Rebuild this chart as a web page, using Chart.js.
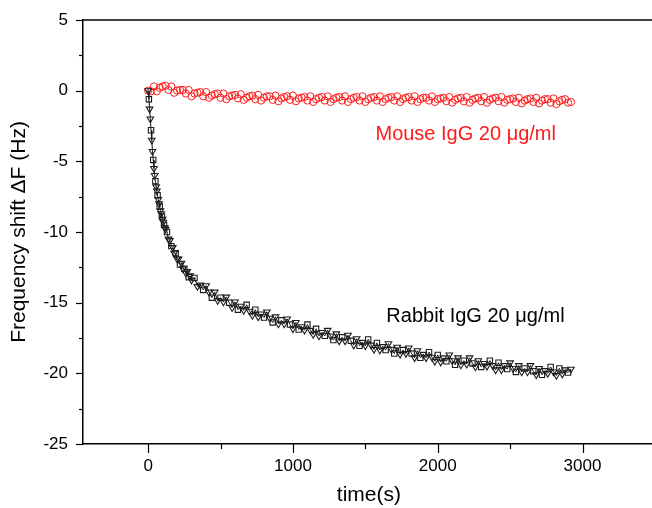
<!DOCTYPE html>
<html>
<head>
<meta charset="utf-8">
<script src="https://cdn.jsdelivr.net/npm/chart.js@4/dist/chart.umd.min.js"></script>
<style>
  html, body { margin: 0; padding: 0; background: #fff; overflow: hidden; }
  #wrap { width: 660px; height: 508px; }
</style>
</head>
<body>
<div id="wrap"><canvas id="qcmChart" width="660" height="508"></canvas></div>
<script>
// Rabbit IgG 20 µg/ml (đường giảm mạnh)
const rabbitTime = [
  0, 5, 10, 15, 20, 25, 30, 35, 40, 45, 50, 55, 60, 65, 70, 75, 80, 85, 90, 95, 100, 105, 110, 115, 120,
  130, 140, 150, 160, 170, 180, 190, 200, 210, 220, 230, 240, 250, 260, 270, 280, 290, 300,
  320, 340, 360, 380, 400, 420, 440, 460, 480, 500, 520, 540, 560, 580, 600, 620, 640, 660, 680, 700,
  720, 740, 760, 780, 800, 820, 840, 860, 880, 900, 920, 940, 960, 980, 1000, 1020, 1040, 1060, 1080, 1100,
  1120, 1140, 1160, 1180, 1200, 1220, 1240, 1260, 1280, 1300, 1320, 1340, 1360, 1380, 1400, 1420, 1440, 1460, 1480, 1500,
  1520, 1540, 1560, 1580, 1600, 1620, 1640, 1660, 1680, 1700, 1720, 1740, 1760, 1780, 1800, 1820, 1840, 1860, 1880, 1900,
  1920, 1940, 1960, 1980, 2000, 2020, 2040, 2060, 2080, 2100, 2120, 2140, 2160, 2180, 2200, 2220, 2240, 2260, 2280, 2300,
  2320, 2340, 2360, 2380, 2400, 2420, 2440, 2460, 2480, 2500, 2520, 2540, 2560, 2580, 2600, 2620, 2640, 2660, 2680, 2700,
  2720, 2740, 2760, 2780, 2800, 2820, 2840, 2860, 2880, 2900, 2920
];
const rabbitShift = [
  0, -0.6, -1.3, -2.0, -2.8, -3.5, -4.3, -4.9, -5.5, -6.0, -6.4, -6.8, -7.1, -7.4, -7.7, -8.0, -8.2, -8.5, -8.7, -8.9, -9.1, -9.3, -9.5, -9.7, -9.8,
  -10.0, -10.5, -10.6, -11.0, -11.1, -11.5, -11.5, -11.9, -11.9, -12.3, -12.2, -12.6, -12.6, -12.9, -12.8, -13.2, -13.1, -13.4,
  -13.25, -13.85, -13.75, -14.1, -13.8, -14.25, -14.65, -14.25, -14.85, -14.65, -14.95, -14.6, -15.0, -15.35, -14.95, -15.5, -15.25, -15.55, -15.15, -15.6,
  -15.9, -15.5, -16.0, -15.8, -16.05, -15.65, -16.1, -16.4, -16.0, -16.5, -16.25, -16.5, -16.15, -16.55, -16.85, -16.4, -16.9, -16.7, -16.95, -16.55,
  -16.95, -17.25, -16.85, -17.35, -17.1, -17.35, -16.95, -17.35, -17.65, -17.2, -17.7, -17.45, -17.7, -17.3, -17.7, -18.0, -17.55, -18.05, -17.8, -18.05,
  -17.6, -18.0, -18.3, -17.85, -18.35, -18.1, -18.35, -17.9, -18.3, -18.6, -18.15, -18.65, -18.35, -18.6, -18.2, -18.6, -18.9, -18.4, -18.9, -18.65,
  -18.9, -18.5, -18.85, -19.15, -18.7, -19.2, -18.9, -19.15, -18.7, -19.1, -19.4, -18.9, -19.4, -19.1, -19.35, -18.9, -19.3, -19.55, -19.1, -19.55,
  -19.3, -19.5, -19.1, -19.45, -19.75, -19.25, -19.75, -19.45, -19.7, -19.25, -19.65, -19.9, -19.45, -19.9, -19.65, -19.9, -19.45, -19.85, -20.1, -19.65,
  -20.1, -19.8, -20.0, -19.55, -19.9, -20.15, -19.65, -20.05, -19.75, -19.95, -19.7
];

// Mouse IgG 20 µg/ml (gần như không đổi)
const mouseTime = [
  0, 20, 40, 60, 80, 100, 120, 140, 160, 180, 200, 220, 240, 260, 280, 300, 320, 340, 360, 380, 400,
  420, 440, 460, 480, 500, 520, 540, 560, 580, 600, 620, 640, 660, 680, 700, 720, 740, 760, 780, 800,
  820, 840, 860, 880, 900, 920, 940, 960, 980, 1000, 1020, 1040, 1060, 1080, 1100, 1120, 1140, 1160, 1180, 1200,
  1220, 1240, 1260, 1280, 1300, 1320, 1340, 1360, 1380, 1400, 1420, 1440, 1460, 1480, 1500, 1520, 1540, 1560, 1580, 1600,
  1620, 1640, 1660, 1680, 1700, 1720, 1740, 1760, 1780, 1800, 1820, 1840, 1860, 1880, 1900, 1920, 1940, 1960, 1980, 2000,
  2020, 2040, 2060, 2080, 2100, 2120, 2140, 2160, 2180, 2200, 2220, 2240, 2260, 2280, 2300, 2320, 2340, 2360, 2380, 2400,
  2420, 2440, 2460, 2480, 2500, 2520, 2540, 2560, 2580, 2600, 2620, 2640, 2660, 2680, 2700, 2720, 2740, 2760, 2780, 2800,
  2820, 2840, 2860, 2880, 2900, 2920
];
const mouseShift = [
  0.0, -0.05, 0.3, -0.05, 0.2, 0.3, 0.35, 0.05, 0.3, -0.15, 0.0, 0.05, 0.05, -0.2, 0.05, -0.4, -0.2, -0.15, -0.1, -0.4, -0.1,
  -0.5, -0.35, -0.25, -0.2, -0.5, -0.2, -0.6, -0.4, -0.35, -0.3, -0.55, -0.25, -0.65, -0.5, -0.4, -0.35, -0.6, -0.3, -0.7, -0.5,
  -0.4, -0.4, -0.65, -0.35, -0.75, -0.55, -0.45, -0.4, -0.65, -0.35, -0.75, -0.55, -0.5, -0.45, -0.7, -0.4, -0.8, -0.6, -0.5, -0.45,
  -0.7, -0.4, -0.8, -0.6, -0.5, -0.45, -0.7, -0.4, -0.8, -0.6, -0.5, -0.45, -0.7, -0.4, -0.8, -0.6, -0.5, -0.45, -0.7, -0.4,
  -0.8, -0.6, -0.5, -0.45, -0.7, -0.4, -0.8, -0.6, -0.5, -0.45, -0.7, -0.4, -0.8, -0.6, -0.5, -0.5, -0.7, -0.4, -0.8, -0.6,
  -0.55, -0.5, -0.75, -0.45, -0.85, -0.65, -0.55, -0.5, -0.75, -0.45, -0.85, -0.65, -0.55, -0.5, -0.75, -0.45, -0.85, -0.65, -0.55, -0.5,
  -0.75, -0.45, -0.85, -0.65, -0.6, -0.55, -0.8, -0.5, -0.9, -0.7, -0.6, -0.55, -0.8, -0.5, -0.9, -0.7, -0.6, -0.6, -0.85, -0.55,
  -0.95, -0.75, -0.65, -0.6, -0.85, -0.8
];

// Vạch chia trục (chính có nhãn, phụ không nhãn)
const xTicks = [0, 500, 1000, 1500, 2000, 2500, 3000, 3500];
const xTickLabels = [0, 1000, 2000, 3000];
const yTicks = [5, 2.5, 0, -2.5, -5, -7.5, -10, -12.5, -15, -17.5, -20, -22.5, -25];
const yTickLabels = [5, 0, -5, -10, -15, -20, -25];

// Chú thích trong vùng vẽ
const notes = [
  { text: "Mouse IgG 20 \u03bcg/ml", x: 1570, y: -3.1, color: "#ff1a1a" },
  { text: "Rabbit IgG 20 \u03bcg/ml", x: 1645, y: -16.0, color: "#000000" }
];

const FONT = "'Liberation Sans', Arial, sans-serif";

// Plugin vẽ vạch chia (chính/phụ), viền trên và chú thích
const framePlugin = {
  id: "frame",
  afterDraw(chart) {
    const { ctx, chartArea, scales } = chart;
    const xs = scales.x, ys = scales.y;
    ctx.save();
    ctx.strokeStyle = "#000";
    ctx.lineWidth = 1.5;
    // viền trên
    ctx.beginPath();
    ctx.moveTo(chartArea.left, chartArea.top);
    ctx.lineTo(chartArea.right + 2, chartArea.top);
    ctx.stroke();

    ctx.lineWidth = 1.2;
    xs.ticks.forEach(t => {
      const px = Math.round(xs.getPixelForValue(t.value)) + 0.5;
      const len = xTickLabels.includes(t.value) ? 9 : 5;
      ctx.beginPath();
      ctx.moveTo(px, chartArea.bottom);
      ctx.lineTo(px, chartArea.bottom + len);
      ctx.stroke();
    });
    ys.ticks.forEach(t => {
      const py = Math.round(ys.getPixelForValue(t.value)) + 0.5;
      const len = yTickLabels.includes(t.value) ? 7 : 4;
      ctx.beginPath();
      ctx.moveTo(chartArea.left, py);
      ctx.lineTo(chartArea.left - len, py);
      ctx.stroke();
    });

    ctx.font = "20px " + FONT;
    ctx.textAlign = "left";
    ctx.textBaseline = "middle";
    notes.forEach(n => {
      ctx.fillStyle = n.color;
      ctx.fillText(n.text, xs.getPixelForValue(n.x), ys.getPixelForValue(n.y));
    });
    ctx.restore();
  }
};

const rabbitPoints = rabbitTime.map((t, i) => ({ x: t, y: rabbitShift[i] }));
const mousePoints = mouseTime.map((t, i) => ({ x: t, y: mouseShift[i] }));

new Chart(document.getElementById("qcmChart"), {
  type: "scatter",
  data: {
    datasets: [
      {
        label: "Rabbit IgG",
        data: rabbitPoints,
        showLine: true,
        borderColor: "#111",
        borderWidth: 1,
        pointBorderColor: "#1c1c1c",
        pointBackgroundColor: "rgba(255,255,255,0)",
        pointBorderWidth: 1.1,
        pointRadius: 3.8,
        pointStyle: ctx => (ctx.dataIndex % 3 === 1 ? "rect" : "triangle"),
        pointRotation: ctx => (ctx.dataIndex % 3 === 1 ? 0 : 180)
      },
      {
        label: "Mouse IgG",
        data: mousePoints,
        showLine: false,
        pointBorderColor: "#ff1f1f",
        pointBackgroundColor: "rgba(255,255,255,0)",
        pointBorderWidth: 1,
        pointRadius: 3.6,
        pointStyle: "circle"
      }
    ]
  },
  options: {
    responsive: false,
    animation: false,
    devicePixelRatio: 1,
    layout: { padding: { top: 20, right: 4, left: 0, bottom: 0 } },
    plugins: {
      legend: { display: false },
      tooltip: { enabled: false }
    },
    scales: {
      x: {
        type: "linear",
        min: -450,
        max: 3500,
        grid: { display: false, drawTicks: false },
        border: { display: true, color: "#000", width: 1.5 },
        afterBuildTicks: s => { s.ticks = xTicks.map(v => ({ value: v })); },
        ticks: {
          padding: 12,
          color: "#000",
          font: { family: FONT, size: 17 },
          maxRotation: 0,
          autoSkip: false,
          callback: v => (xTickLabels.includes(v) ? String(v) : "")
        },
        title: {
          display: true,
          text: "time(s)",
          color: "#000",
          font: { family: FONT, size: 21 },
          padding: { top: 0, bottom: 0 }
        },
        afterFit: s => { s.height = 64; s.paddingLeft = 0; s.paddingRight = 0; }
      },
      y: {
        type: "linear",
        min: -25,
        max: 5,
        grid: { display: false, drawTicks: false },
        border: { display: true, color: "#000", width: 1.5 },
        afterBuildTicks: s => { s.ticks = yTicks.map(v => ({ value: v })); },
        ticks: {
          padding: 15,
          color: "#000",
          font: { family: FONT, size: 17 },
          autoSkip: false,
          callback: v => (yTickLabels.includes(v) ? String(v) : "")
        },
        title: {
          display: true,
          text: "Frequency shift \u0394F (Hz)",
          color: "#000",
          font: { family: FONT, size: 21 },
          padding: { top: 7, bottom: 0 }
        },
        afterFit: s => { s.width = 83; s.paddingTop = 0; s.paddingBottom = 0; }
      }
    }
  },
  plugins: [framePlugin]
});
</script>
</body>
</html>
